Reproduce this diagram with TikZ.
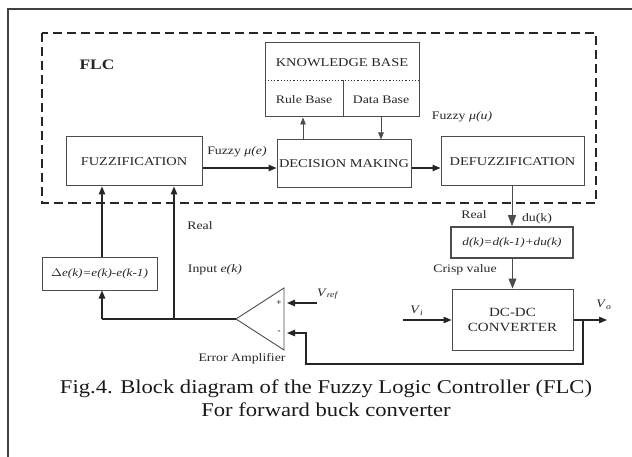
\documentclass[tikz,border=0pt]{standalone}
\usepackage{fontspec}
\setmainfont{Liberation Serif}
\usetikzlibrary{arrows.meta,calc}
\newcommand\stretchx[1]{\scalebox{1.2}[1]{#1}}
\newcommand\stretchcap[1]{\scalebox{1.16}[1]{#1}}
\begin{document}
\begin{tikzpicture}[x=1pt,y=-1pt,
  blk/.style={draw=black!70, line width=1pt, inner sep=0pt, align=center,
    font=\fontsize{12}{14}\selectfont, text=black!85},
  lab/.style={inner sep=0pt, font=\fontsize{11.5}{12}\selectfont, text=black!85},
  wire/.style={line width=1.3pt, draw=black!85},
  arr/.style={wire, -{Triangle[length=8pt,width=6.5pt]}},
  thinarr/.style={line width=0.8pt, draw=black!70, -{Triangle[length=11pt,width=8pt]}},
  dashbox/.style={line width=2.4pt, draw=black!85, dash pattern=on 9pt off 5pt}
]
\useasboundingbox (0,0) rectangle (632,457);
% outer frame
\coordinate (fr0) at (8,457);
\coordinate (fr1) at (8,9);
\coordinate (fr2) at (632,9);
\draw[line width=1.4pt, draw=black!75] (fr0) -- (fr1) -- (fr2);
% FLC dashed box
\coordinate (d1) at (42,33);
\coordinate (d2) at (596,203);
\draw[dashbox] (d1) rectangle (d2);
\node[inner sep=0pt, font=\fontsize{14.5}{16}\selectfont\bfseries, text=black!85] (flc) at (97,65) {\stretchx{FLC}};

% blocks
\node[blk, minimum width=136pt, minimum height=49pt] (fuzz) at (134,161.5) {\stretchx{FUZZIFICATION}};
\node[blk, minimum width=134pt, minimum height=48pt] (dm) at (344,164) {\stretchx{DECISION MAKING}};
\node[blk, minimum width=143pt, minimum height=49pt] (defuzz) at (512.5,161.5) {\stretchx{DEFUZZIFICATION}};
\node[blk, minimum width=154pt, minimum height=74pt] (kb) at (342,80) {};
\node[lab, font=\fontsize{12}{13}\selectfont] (kbt) at (342,63) {\stretchx{KNOWLEDGE BASE}};
\coordinate (kbl) at ([yshift=-38pt]kb.north west);
\coordinate (kbr) at ([yshift=-38pt]kb.north east);
\draw[dotted, line width=1.2pt, draw=black!80] (kbl) -- (kbr);
\draw[line width=1pt, draw=black!70] ([xshift=1pt]kb.south) -- ([xshift=1pt]kb.south |- kbl);
\node[lab] (rb) at (304,100) {\stretchx{Rule Base}};
\node[lab] (db) at (381,100) {\stretchx{Data Base}};

\node[blk, line width=1.5pt, minimum width=122pt, minimum height=31pt, font=\fontsize{11}{12}\selectfont\itshape] (dk) at (512,242.5) {\stretchx{d(k)=d(k-1)+du(k)}};
\node[blk, minimum width=121pt, minimum height=61pt, font=\fontsize{12.5}{15}\selectfont] (dcdc) at (512.5,319.5) {\stretchx{DC-DC}\\\stretchx{CONVERTER}};
\node[blk, minimum width=115pt, minimum height=32pt, font=\fontsize{11}{12}\selectfont\itshape] (de) at (99.5,274) {\stretchx{$\Delta$e(k)=e(k)-e(k-1)}};

% arrows inside FLC
\draw[arr] ([yshift=-6.5pt]fuzz.east) -- ([yshift=-6.5pt]fuzz.east -| dm.west);
\draw[arr] ([yshift=-4pt]dm.east) -- ([yshift=-4pt]dm.east -| defuzz.west);
\draw[thinarr, -{Triangle[length=7pt,width=5.5pt]}] ([xshift=-41pt]dm.north) -- ([xshift=-41pt]dm.north |- kb.south);
\draw[thinarr, -{Triangle[length=7pt,width=5.5pt]}] ([xshift=37pt]dm.north |- kb.south) -- ([xshift=37pt]dm.north);
\node[lab] (fue) at (237,152) {\stretchx{Fuzzy \textit{μ(e)}}};
\node[lab] (fuu) at (462,117) {\stretchx{Fuzzy \textit{μ(u)}}};

% defuzz to d(k) to converter
\draw[thinarr] (defuzz.south -| dk.north) -- (dk.north);
\node[lab] (real2) at (474,215) {\stretchx{Real}};
\node[lab] (duk) at (537,219) {\stretchx{du(k)}};
\draw[thinarr, -{Triangle[length=10pt,width=8pt]}] (dk.south -| dcdc.north) -- (dcdc.north);
\node[lab] (crisp) at (465,270) {\stretchx{Crisp value}};

% converter I/O
\coordinate (vi) at (403,320);
\coordinate (vo) at (607,320);
\draw[arr] (vi) -- (vi -| dcdc.west);
\draw[arr] (vo -| dcdc.east) -- (vo);
\node[lab] (vil) at (417,311) {\stretchx{\textit{V}\textsubscript{\textit{i}}}};
\node[lab] (vol) at (604,305) {\stretchx{\textit{V}\textsubscript{\textit{o}}}};

% error amplifier
\coordinate (tip) at (236,319);
\coordinate (ttop) at (284,288);
\coordinate (tbot) at (284,350);
\draw[line width=0.9pt, draw=black!70] (tip) -- (ttop) -- (tbot) -- cycle;
\coordinate (pin) at (287,303);
\coordinate (nin) at (287,333);
\node[lab, font=\fontsize{9}{10}\selectfont\bfseries] (plus) at (279,303) {+};
\node[lab, font=\fontsize{9}{10}\selectfont\bfseries] (minus) at (279,332) {-};
\node[lab] (eamp) at (242,359) {\stretchx{Error Amplifier}};
\coordinate (vref) at (317,303);
\draw[arr] (vref) -- (pin);
\node[lab] (vrefl) at (328,294) {\stretchx{\textit{V}\textsubscript{\textit{ref}}}};

% feedback from output
\coordinate (fbj) at (583,320);
\coordinate (fb1) at (583,364);
\coordinate (fb2) at (306,364);
\coordinate (fb3) at (306,333);
\draw[arr] (fbj) -- (fb1) -- (fb2) -- (fb3) -- (nin);

% error signal to fuzzification
\coordinate (j0) at (102,319);
\coordinate (j1) at (174,319);
\draw[wire] (tip) -- (j0);
\draw[arr] (j0) -- (j0 |- de.south);
\draw[arr] (j0 |- de.north) -- (j0 |- fuzz.south);
\draw[arr] (j1) -- (j1 |- fuzz.south);
\node[lab] (real1) at (200,226) {\stretchx{Real}};
\node[lab] (inp) at (215,270) {\stretchx{Input \textit{e(k)}}};

% caption
\node[inner sep=0pt, font=\fontsize{19.5}{21}\selectfont, text=black!90] (cap1) at (326,389) {\stretchcap{Fig.4. Block diagram of the Fuzzy Logic Controller (FLC)}};
\node[inner sep=0pt, font=\fontsize{19.5}{21}\selectfont, text=black!90] (cap2) at (326,410) {\stretchcap{For forward buck converter}};
\end{tikzpicture}
\end{document}
